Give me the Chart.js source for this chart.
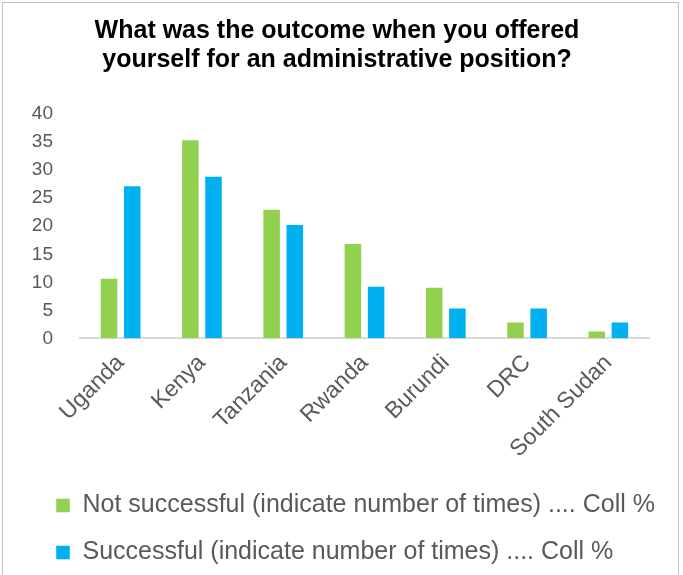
<!DOCTYPE html>
<html>
<head>
<meta charset="utf-8">
<script src="https://cdn.jsdelivr.net/npm/chart.js@4/dist/chart.umd.min.js"></script>
<style>
  html, body { margin: 0; padding: 0; background: #fff; }
  #wrap { position: relative; width: 683px; height: 575px; overflow: hidden; }
  #frame { position: absolute; left: 2px; top: 2px; width: 677px; height: 600px; border: 1px solid #bfbfbf; box-sizing: border-box; }
  #chart { position: absolute; left: 0; top: 0; }
</style>
</head>
<body>
<div id="wrap">
  <div id="frame"></div>
  <canvas id="chart" width="683" height="575"></canvas>
</div>
<script>
const countries = ['Uganda', 'Kenya', 'Tanzania', 'Rwanda', 'Burundi', 'DRC', 'South Sudan'];
const notSuccessful = [10.8, 35.5, 23.1, 17.0, 9.2, 3.0, 1.4];
const successful = [27.3, 29.0, 20.4, 9.4, 5.5, 5.5, 3.0];
const yTicks = [0, 5, 10, 15, 20, 25, 30, 35, 40];

const green = '#92d050';
const blue = '#00b0f0';
const grey = '#595959';
const font = "'Liberation Sans', Arial, sans-serif";

// legend rows start further left and run wider than the plot area
const legendSpan = {
  id: 'legendSpan',
  afterLayout(chart) {
    chart.legend.left = 34;
    chart.legend.right = 676;
  }
};

new Chart(document.getElementById('chart'), {
  type: 'bar',
  data: {
    labels: countries,
    datasets: [
      { label: 'Not successful (indicate number of times) .... Coll %', data: notSuccessful,
        backgroundColor: green, borderColor: 'rgba(255,255,255,0.45)', borderWidth: 1 },
      { label: 'Successful (indicate number of times) .... Coll %', data: successful,
        backgroundColor: blue, borderColor: 'rgba(255,255,255,0.45)', borderWidth: 1 }
    ]
  },
  plugins: [legendSpan],
  options: {
    responsive: false,
    animation: false,
    layout: { padding: { left: 25, right: 34, top: 10, bottom: 0 } },
    datasets: { bar: { categoryPercentage: 0.57, barPercentage: 0.8 } },
    plugins: {
      title: {
        display: true,
        text: ['What was the outcome when you offered', 'yourself for an administrative position?'],
        color: '#000',
        font: { family: font, size: 25, weight: 'bold', lineHeight: 1.16 },
        padding: { top: 7, bottom: 39 }
      },
      legend: {
        position: 'bottom',
        align: 'start',
        labels: {
          color: grey,
          font: { family: font, size: 25 },
          boxWidth: 14,
          boxHeight: 14,
          padding: 22
        }
      },
      tooltip: { enabled: false }
    },
    scales: {
      x: {
        afterFit: (scale) => { scale.height += 5; },
        grid: { display: false },
        border: { display: true, color: '#d9d9d9', width: 2 },
        ticks: { color: grey, font: { family: font, size: 23 }, minRotation: 45, maxRotation: 45 }
      },
      y: {
        min: 0,
        max: 40,
        afterBuildTicks: (scale) => { scale.ticks = yTicks.map(v => ({ value: v })); },
        afterFit: (scale) => { scale.width = 55; },
        grid: { display: false },
        border: { display: false },
        ticks: { color: grey, font: { family: font, size: 19 }, padding: 19 }
      }
    }
  }
});
</script>
</body>
</html>
